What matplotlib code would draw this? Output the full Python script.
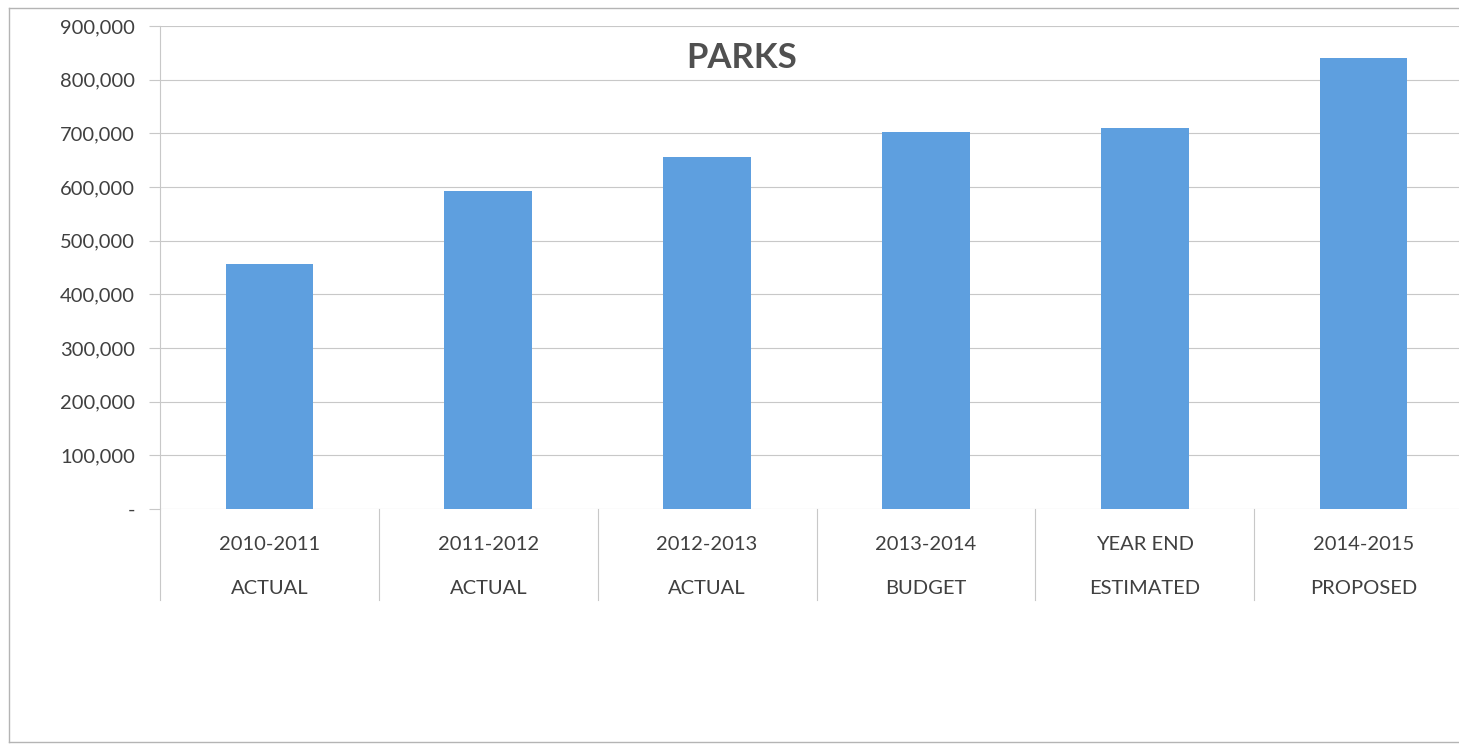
import numpy as np
import matplotlib.pyplot as plt
from matplotlib.lines import Line2D
from matplotlib.ticker import FuncFormatter

# parks department spending by fiscal year
years = ["2010-2011", "2011-2012", "2012-2013", "2013-2014", "YEAR END", "2014-2015"]
kinds = ["ACTUAL", "ACTUAL", "ACTUAL", "BUDGET", "ESTIMATED", "PROPOSED"]
amounts = [456500, 593000, 656500, 703000, 709500, 840000]

plt.rcParams['font.family'] = ['Lato', 'DejaVu Sans']
txt = '#404040'
grid = '#c8c8c8'

W, H = 1459, 744
fig = plt.figure(figsize=(W / 100, H / 100), dpi=100)

# plot area in pixels: left 160, right runs past the edge (1473), top 26, bottom 509
L, R, T, B = 160, 1473, 26, 509
ax = fig.add_axes([L / W, (H - B) / H, (R - L) / W, (B - T) / H])

x = np.arange(len(amounts)) + 0.5
ax.bar(x, amounts, width=0.4, color='#5e9fdf', zorder=3)

ax.set_xlim(0, len(amounts))
ax.set_ylim(0, 900000)
ax.set_yticks(np.arange(0, 900001, 100000))
ax.yaxis.set_major_formatter(FuncFormatter(lambda v, p: '-' if v == 0 else f'{int(v):,}'))
ax.tick_params(axis='y', length=8, width=0.8, color=grid, labelsize=14.5,
               labelcolor=txt, pad=10)
ax.set_xticks([])
ax.grid(axis='y', color=grid, lw=0.8, zorder=0)

for s in ['top', 'right', 'bottom']:
    ax.spines[s].set_visible(False)
ax.spines['left'].set_color(grid)
ax.spines['left'].set_linewidth(0.8)

# category separators hanging below the baseline
tr = ax.get_xaxis_transform()
ph = B - T
for i in range(len(amounts)):
    ax.plot([i, i], [0, -(600 - B) / ph], color=grid, lw=0.8, transform=tr, clip_on=False)

# two-line category labels
for xi, yr, kd in zip(x, years, kinds):
    ax.text(xi, -(544 - B) / ph, yr, transform=tr, ha='center', va='center',
            fontsize=14.5, color=txt)
    ax.text(xi, -(588 - B) / ph, kd, transform=tr, ha='center', va='center',
            fontsize=14.5, color=txt)

fig.text(742 / W, 1 - 58 / H, 'PARKS', ha='center', va='center', fontsize=25,
         fontweight='bold', color='#505050')

# chart border
for xs, ys in [([9, 9], [8, 742]), ([9, W], [8, 8]), ([9, W], [742, 742])]:
    fig.add_artist(Line2D([v / W for v in xs], [1 - v / H for v in ys],
                          color='#b4b4b4', lw=1.0))

fig.savefig('out.png', dpi=100)
